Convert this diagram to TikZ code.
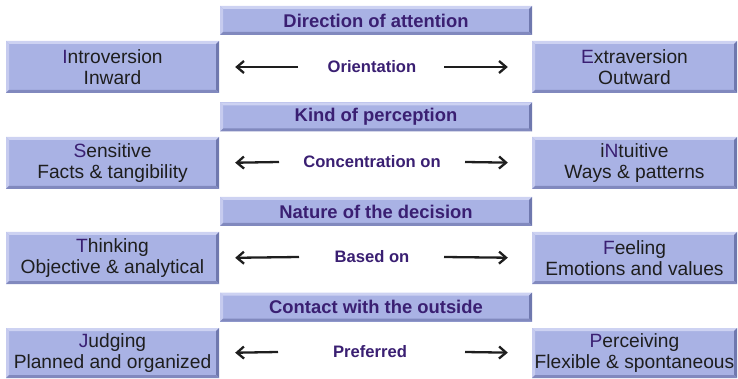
\documentclass[tikz,border=0pt]{standalone}
\usepackage{fontspec}
\setmainfont{Liberation Sans}
\usetikzlibrary{arrows.meta}

\definecolor{boxfill}{HTML}{A9B2E4}
\definecolor{bevlight}{HTML}{CDD2F2}
\definecolor{bevdark}{HTML}{6F78AE}
\definecolor{purp}{HTML}{3A1F72}
\definecolor{ink}{HTML}{1E1E1E}

\newcommand{\ini}[1]{\textcolor{purp}{#1}}

\tikzset{
  bevelbox/.style={rectangle, fill=boxfill, inner sep=0pt, align=center,
    path picture={
      \fill[bevlight] (path picture bounding box.north west) -- (path picture bounding box.north east)
        -- ([xshift=-3pt,yshift=-3pt]path picture bounding box.north east)
        -- ([xshift=3pt,yshift=-3pt]path picture bounding box.north west) -- cycle;
      \fill[bevlight!80!boxfill] (path picture bounding box.north west) -- (path picture bounding box.south west)
        -- ([xshift=3pt,yshift=3pt]path picture bounding box.south west)
        -- ([xshift=3pt,yshift=-3pt]path picture bounding box.north west) -- cycle;
      \fill[bevdark] (path picture bounding box.north east) -- (path picture bounding box.south east)
        -- ([xshift=-3pt,yshift=3pt]path picture bounding box.south east)
        -- ([xshift=-3pt,yshift=-3pt]path picture bounding box.north east) -- cycle;
      \fill[bevdark!70!boxfill] (path picture bounding box.south west) -- (path picture bounding box.south east)
        -- ([xshift=-3pt,yshift=3pt]path picture bounding box.south east)
        -- ([xshift=3pt,yshift=3pt]path picture bounding box.south west) -- cycle;
    }},
  header/.style={bevelbox, minimum width=312pt, minimum height=29pt,
    text=purp, font=\fontsize{18.4}{20}\selectfont\bfseries},
  sidebox/.style={bevelbox, minimum height=52pt, text=ink,
    font=\fontsize{19.2}{21}\selectfont},
  leftbox/.style={sidebox, minimum width=213pt},
  rightbox/.style={sidebox, minimum width=205pt},
  midlabel/.style={text=purp, font=\fontsize{16.6}{18}\selectfont\bfseries, inner sep=0pt},
  arr/.style={draw=ink, line width=2.3pt, -{Straight Barb[length=7pt,width=12pt,line width=2.3pt]}}
}

\begin{document}
\begin{tikzpicture}[x=1pt,y=-1pt]
  \useasboundingbox (0,0) rectangle (738,379);

  % --- Direction of attention
  \node[header] (h1) at (376,20.5) {Direction of attention};
  \node[leftbox] (I) at (112.5,67) {\ini{I}ntroversion\\Inward};
  \node[rightbox] (E) at (634.5,67) {\ini{E}xtraversion\\Outward};
  \node[midlabel] (m1) at (372,67) {Orientation};
  \coordinate (t1l) at (298,67);
  \coordinate (t1r) at (444,67);
  \draw[arr, shorten >=16pt] (t1l) -- (I.east);
  \draw[arr, shorten >=24pt] (t1r) -- (E.west);

  % --- Kind of perception
  \node[header] (h2) at (376,117) {Kind of perception};
  \node[leftbox] (S) at (112.5,163) {\ini{S}ensitive\\Facts \& tangibility};
  \node[rightbox] (N) at (634.5,163) {i\ini{N}tuitive\\Ways \& patterns};
  \node[midlabel] (m2) at (372,162) {Concentration on};
  \coordinate (t2l) at (279,162);
  \coordinate (t2r) at (465,162);
  \draw[arr, shorten >=16pt] (t2l) -- (S.east);
  \draw[arr, shorten >=24pt] (t2r) -- (N.west);

  % --- Nature of the decision
  \node[header] (h3) at (376,211.5) {Nature of the decision};
  \node[leftbox] (T) at (112.5,258) {\ini{T}hinking\\Objective \& analytical};
  \node[rightbox] (F) at (634.5,258) {\ini{F}eeling\\Emotions and values};
  \node[midlabel] (m3) at (372,257) {Based on};
  \coordinate (t3l) at (299,257);
  \coordinate (t3r) at (444,257);
  \draw[arr, shorten >=16pt] (t3l) -- (T.east);
  \draw[arr, shorten >=24pt] (t3r) -- (F.west);

  % --- Contact with the outside
  \node[header] (h4) at (376,307) {Contact with the outside};
  \node[leftbox, minimum height=50pt] (J) at (112.5,353) {\ini{J}udging\\Planned and organized};
  \node[rightbox, minimum height=50pt] (P) at (634.5,353) {\ini{P}erceiving\\Flexible \& spontaneous};
  \node[midlabel] (m4) at (370,352) {Preferred};
  \coordinate (t4l) at (278,352);
  \coordinate (t4r) at (465,352);
  \draw[arr, shorten >=16pt] (t4l) -- (J.east);
  \draw[arr, shorten >=24pt] (t4r) -- (P.west);
\end{tikzpicture}
\end{document}
